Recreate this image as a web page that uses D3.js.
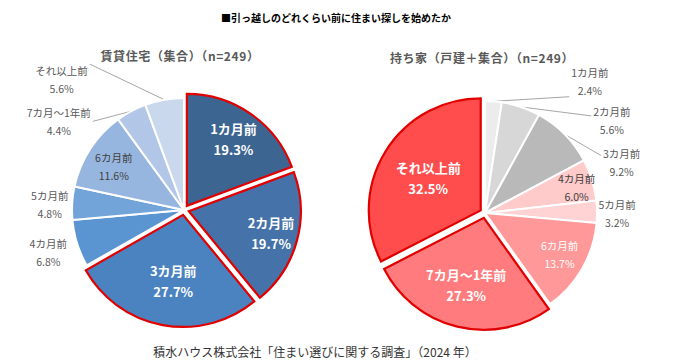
<!doctype html>
<html lang="ja">
<head>
<meta charset="utf-8">
<title>引っ越しのどれくらい前に住まい探しを始めたか</title>
<script src="https://cdnjs.cloudflare.com/ajax/libs/d3/7.8.5/d3.min.js"></script>
<style>
  body { margin: 0; background: #fff; }
  svg { font-family: "Noto Sans CJK JP", "Noto Sans", sans-serif; }
</style>
</head>
<body>
<svg id="chart" width="673" height="364"></svg>
<script>
// categories (clockwise from 12 o'clock)
const leftCats  = ["1カ月前", "2カ月前", "3カ月前", "4カ月前", "5カ月前", "6カ月前", "7カ月～1年前", "それ以上前"];
const leftValues = [19.3, 19.7, 27.7, 6.8, 4.8, 11.6, 4.4, 5.6];
const rightCats = ["1カ月前", "2カ月前", "3カ月前", "4カ月前", "5カ月前", "6カ月前", "7カ月～1年前", "それ以上前"];
const rightValues = [2.4, 5.6, 9.2, 6.0, 3.2, 13.7, 27.3, 32.5];

const leftHighlight  = ["1カ月前", "2カ月前", "3カ月前"];
const rightHighlight = ["7カ月～1年前", "それ以上前"];

const leftColors  = ["#3d6592", "#4573a9", "#4b83c1", "#5a95d1", "#73a4d9", "#97b6df", "#b2c7e7", "#cad8ee"];
const rightColors = ["#ececec", "#d7d7d7", "#b9b9b9", "#ffcaca", "#ffd3d3", "#ff9898", "#ff7b7d", "#ff4c4c"];

// label placement: radius factor, angle shift (deg) from slice middle, style, leader
const leftLabelLayout = [
  { r: 0.73, shift: 0, kind: "bold" },
  { r: 0.76, shift: 0, kind: "bold" },
  { r: 0.60, shift: -2, kind: "bold" },
  { r: 1.27, shift: 0, kind: "out" },
  { r: 1.20, shift: -1, kind: "out" },
  { r: 0.74, shift: -1, kind: "dark" },
  { r: 1.37, shift: -26.6, kind: "out", lead: { side: 1, dy: 0 } },
  { r: 1.60, shift: -33, kind: "out", lead: { side: 1, dy: -15 } }
];
const rightLabelLayout = [
  { r: 1.50, shift: 34.3, kind: "out", lead: { side: -1, dy: 15 } },
  { r: 1.40, shift: 35.3, kind: "out", lead: { side: -1, dy: -5 } },
  { r: 1.30, shift: 24.3, kind: "out", lead: { side: -1, dy: -7 } },
  { r: 0.85, shift: 1.5, kind: "dark" },
  { r: 1.18, shift: 0.7, kind: "out" },
  { r: 0.76, shift: -1, kind: "white" },
  { r: 0.62, shift: 1, kind: "bold" },
  { r: 0.55, shift: 0, kind: "bold" }
];

const svg = d3.select("#chart");
const R = 112;
const explode = 5;

svg.append("text")
  .attr("x", 336).attr("y", 17)
  .attr("text-anchor", "middle").attr("dominant-baseline", "central")
  .attr("font-size", 10).attr("font-weight", "bold").attr("fill", "#000")
  .text("■引っ越しのどれくらい前に住まい探しを始めたか");

svg.append("text")
  .attr("x", 315).attr("y", 351)
  .attr("text-anchor", "middle").attr("dominant-baseline", "central")
  .attr("font-size", 12).attr("fill", "#333")
  .text("積水ハウス株式会社「住まい選びに関する調査」（2024 年）");

function drawPie(opts) {
  const g = svg.append("g").attr("transform", `translate(${opts.cx},${opts.cy})`);

  g.append("text")
    .attr("x", opts.titleDx).attr("y", opts.titleY - opts.cy)
    .attr("text-anchor", "middle").attr("dominant-baseline", "central")
    .attr("font-size", 12).attr("font-weight", "bold").attr("fill", "#595959")
    .attr("letter-spacing", 0.6)
    .text(opts.title);

  const pie = d3.pie().sort(null).value(d => d.value);
  const data = pie(opts.cats.map((c, i) => ({
    cat: c, value: opts.values[i], color: opts.colors[i],
    hl: opts.highlight.includes(c), layout: opts.layout[i]
  })));
  const arc = d3.arc().innerRadius(0).outerRadius(R);
  const mid = d => (d.startAngle + d.endAngle) / 2;
  const off = d => d.data.hl ? explode : 0;

  // normal slices first, highlighted ones on top
  const ordered = data.filter(d => !d.data.hl).concat(data.filter(d => d.data.hl));
  g.selectAll("path.slice")
    .data(ordered)
    .enter().append("path")
    .attr("class", "slice")
    .attr("d", arc)
    .attr("transform", d => `translate(${Math.sin(mid(d)) * off(d)},${-Math.cos(mid(d)) * off(d)})`)
    .attr("fill", d => d.data.color)
    .attr("stroke", d => d.data.hl ? "#e00000" : "#fff")
    .attr("stroke-width", d => d.data.hl ? 2.2 : 2)
    .attr("stroke-linejoin", "miter");

  const styles = {
    bold:  { size: 13, weight: "bold", fill: "#fff", gap: 21 },
    dark:  { size: 10.5, weight: "normal", fill: "#404040", gap: 18 },
    white: { size: 10.5, weight: "normal", fill: "#fff", gap: 18 },
    out:   { size: 10.5, weight: "normal", fill: "#595959", gap: 18 }
  };

  data.forEach(d => {
    const L = d.data.layout;
    const st = styles[L.kind];
    const a = mid(d) + L.shift * Math.PI / 180;
    const ox = Math.sin(mid(d)) * off(d), oy = -Math.cos(mid(d)) * off(d);
    const lx = ox + Math.sin(a) * R * L.r;
    const ly = oy - Math.cos(a) * R * L.r;

    const t = g.append("g");
    const lines = [d.data.cat, d.data.value.toFixed(1) + "%"];
    const nodes = lines.map((s, i) => t.append("text")
      .attr("x", lx).attr("y", ly + (i - 0.5) * st.gap)
      .attr("text-anchor", "middle").attr("dominant-baseline", "central")
      .attr("font-size", st.size).attr("font-weight", st.weight).attr("fill", st.fill)
      .text(s));

    if (L.lead) {
      const w = d3.max(nodes, n => n.node().getComputedTextLength());
      const ex = Math.sin(mid(d)) * R, ey = -Math.cos(mid(d)) * R;
      g.insert("line", "path")
        .attr("x1", ex).attr("y1", ey)
        .attr("x2", lx + L.lead.side * (w / 2 + 2)).attr("y2", ly + L.lead.dy)
        .attr("stroke", "#a6a6a6").attr("stroke-width", 1);
    }
  });
}

drawPie({
  cx: 184, cy: 210, title: "賃貸住宅（集合）（n=249）", titleDx: -4, titleY: 55,
  cats: leftCats, values: leftValues, colors: leftColors,
  highlight: leftHighlight, layout: leftLabelLayout
});
drawPie({
  cx: 485, cy: 213, title: "持ち家（戸建＋集合）（n=249）", titleDx: -3, titleY: 57,
  cats: rightCats, values: rightValues, colors: rightColors,
  highlight: rightHighlight, layout: rightLabelLayout
});
</script>
</body>
</html>
